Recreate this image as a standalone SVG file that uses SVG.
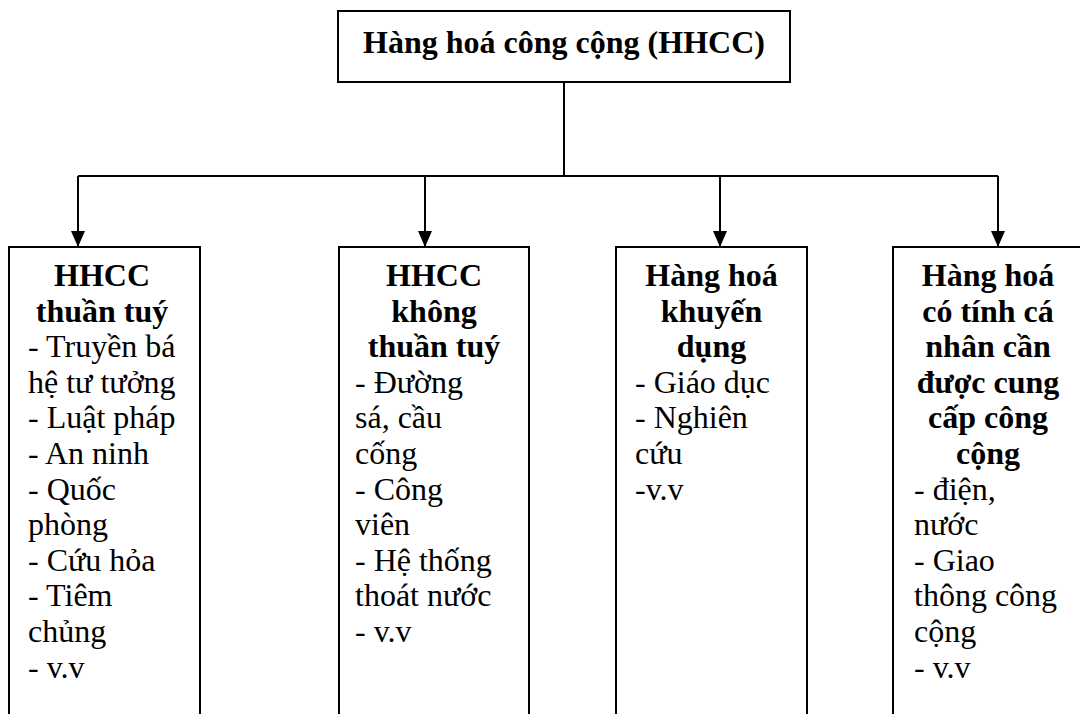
<svg xmlns="http://www.w3.org/2000/svg" width="1080" height="714" viewBox="0 0 1080 714">
  <style>
    .box { fill: #ffffff; stroke: #000000; stroke-width: 2; }
    .wire { fill: none; stroke: #000000; stroke-width: 2; }
    .t { font-family: "Liberation Serif", "Times New Roman", serif; font-size: 32px; fill: #000000; }
    .h { font-weight: bold; text-anchor: middle; }
  </style>
  <defs>
    <marker id="arrow" viewBox="0 0 16 14" refX="16" refY="7" markerWidth="16" markerHeight="14" markerUnits="userSpaceOnUse" orient="auto">
      <path d="M0,0 L16,7 L0,14 Z" fill="#000000"/>
    </marker>
  </defs>

  <rect width="1080" height="714" fill="#ffffff"/>

  <!-- connectors -->
  <g id="connectors">
    <path class="wire" d="M564,82 V176"/>
    <path class="wire" d="M78,176 H998"/>
    <path class="wire" d="M78,176 V247" marker-end="url(#arrow)"/>
    <path class="wire" d="M425,176 V247" marker-end="url(#arrow)"/>
    <path class="wire" d="M720,176 V247" marker-end="url(#arrow)"/>
    <path class="wire" d="M998,176 V247" marker-end="url(#arrow)"/>
  </g>

  <!-- root node -->
  <g id="root">
    <rect class="box" x="338" y="11" width="452" height="71"/>
    <text class="t h" x="564" y="53">Hàng hoá công cộng (HHCC)</text>
  </g>

  <!-- pure public goods -->
  <g id="pure">
    <rect class="box" x="9" y="247" width="191" height="480"/>
    <text class="t h" x="102" y="286">HHCC</text>
    <text class="t h" x="102" y="321.6">thuần tuý</text>
    <text class="t" x="28" y="357.2">- Truyền bá</text>
    <text class="t" x="28" y="392.8">hệ tư tưởng</text>
    <text class="t" x="28" y="428.4">- Luật pháp</text>
    <text class="t" x="28" y="464">- An ninh</text>
    <text class="t" x="28" y="499.6">- Quốc</text>
    <text class="t" x="28" y="535.2">phòng</text>
    <text class="t" x="28" y="570.8">- Cứu hỏa</text>
    <text class="t" x="28" y="606.4">- Tiêm</text>
    <text class="t" x="28" y="642">chủng</text>
    <text class="t" x="28" y="677.6">- v.v</text>
  </g>

  <!-- impure public goods -->
  <g id="impure">
    <rect class="box" x="339" y="247" width="190" height="480"/>
    <text class="t h" x="434" y="286">HHCC</text>
    <text class="t h" x="434" y="321.6">không</text>
    <text class="t h" x="434" y="357.2">thuần tuý</text>
    <text class="t" x="355" y="392.8">- Đường</text>
    <text class="t" x="355" y="428.4">sá, cầu</text>
    <text class="t" x="355" y="464">cống</text>
    <text class="t" x="355" y="499.6">- Công</text>
    <text class="t" x="355" y="535.2">viên</text>
    <text class="t" x="355" y="570.8">- Hệ thống</text>
    <text class="t" x="355" y="606.4">thoát nước</text>
    <text class="t" x="355" y="642">- v.v</text>
  </g>

  <!-- merit goods -->
  <g id="merit">
    <rect class="box" x="616" y="247" width="191" height="480"/>
    <text class="t h" x="711.5" y="286">Hàng hoá</text>
    <text class="t h" x="711.5" y="321.6">khuyến</text>
    <text class="t h" x="711.5" y="357.2">dụng</text>
    <text class="t" x="635" y="392.8">- Giáo dục</text>
    <text class="t" x="635" y="428.4">- Nghiên</text>
    <text class="t" x="635" y="464">cứu</text>
    <text class="t" x="635" y="499.6">-v.v</text>
  </g>

  <!-- private goods provided publicly -->
  <g id="public-provision">
    <rect class="box" x="893" y="247" width="191" height="480"/>
    <text class="t h" x="988" y="286">Hàng hoá</text>
    <text class="t h" x="988" y="321.6">có tính cá</text>
    <text class="t h" x="988" y="357.2">nhân cần</text>
    <text class="t h" x="988" y="392.8">được cung</text>
    <text class="t h" x="988" y="428.4">cấp công</text>
    <text class="t h" x="988" y="464">cộng</text>
    <text class="t" x="914" y="499.6">- điện,</text>
    <text class="t" x="914" y="535.2">nước</text>
    <text class="t" x="914" y="570.8">- Giao</text>
    <text class="t" x="914" y="606.4">thông công</text>
    <text class="t" x="914" y="642">cộng</text>
    <text class="t" x="914" y="677.6">- v.v</text>
  </g>
</svg>
